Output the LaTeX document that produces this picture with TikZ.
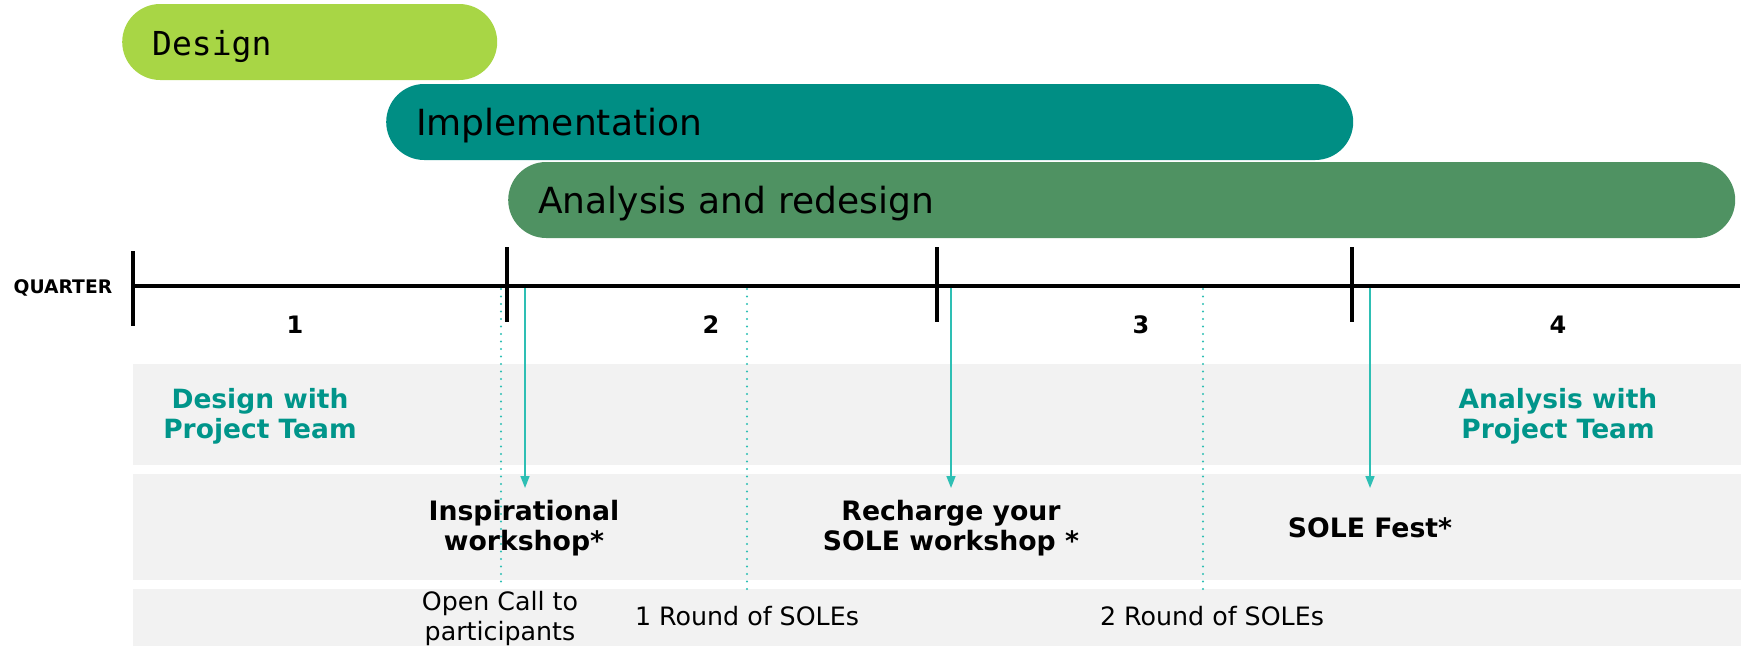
\documentclass[tikz,border=0pt]{standalone}
\usepackage{fontspec}
\setmainfont{DejaVu Sans}
\newfontfamily\monofont{DejaVu Sans Mono}
\usetikzlibrary{arrows.meta}
\definecolor{cDesign}{HTML}{A8D645}
\definecolor{cImpl}{HTML}{008E84}
\definecolor{cAnal}{HTML}{4F9262}
\definecolor{cTealText}{HTML}{00958A}
\definecolor{cArrow}{HTML}{2EBFB4}
\definecolor{cBand}{HTML}{F2F2F2}
\begin{document}
\begin{tikzpicture}[x=1pt,y=-1pt,
  bar/.style={anchor=west, rounded corners=38pt, minimum height=76pt,
    inner xsep=30pt, inner ysep=0pt, text height=27pt, text depth=0pt,
    align=left, font=\fontsize{36}{40}\selectfont, text=black},
  band/.style={fill=cBand},
  axisline/.style={line width=4pt, black},
  tickline/.style={line width=3.5pt, black},
  dotline/.style={cArrow, line width=2.2pt, line cap=round, dash pattern=on 0pt off 7.5pt},
  evarrow/.style={cArrow, line width=1.6pt, -{Triangle[length=12pt,width=9pt]}},
  qnum/.style={anchor=base, font=\bfseries\fontsize{24}{28}\selectfont},
  teamlabel/.style={anchor=base, align=center, text=cTealText, inner sep=0pt,
    font=\bfseries\fontsize{26.5}{30}\selectfont},
  eventlabel/.style={anchor=base, align=center, text=black, inner sep=0pt,
    font=\bfseries\fontsize{26.7}{30}\selectfont},
  smalllabel/.style={anchor=base, align=center, text=black, inner sep=0pt,
    font=\fontsize{25.3}{30}\selectfont}
]
\useasboundingbox (0,0) rectangle (1743,648);

% phase bars
\node[bar, fill=cDesign, text width=315pt, font=\monofont\fontsize{33}{36}\selectfont] (design) at (122,42) {Design};
\node[bar, fill=cImpl, text width=907pt] (impl) at (386,122) {Implementation};
\node[bar, fill=cAnal, text width=1167pt] (anal) at (508,200) {Analysis and redesign};

% background bands
\fill[band] (133,364) rectangle (1741,465);
\fill[band] (133,474) rectangle (1741,580);
\fill[band] (133,589) rectangle (1741,646);

% axis
\coordinate (axL) at (133,286);
\coordinate (axR) at (1740,286);
\draw[axisline] (axL) -- (axR);
\draw[tickline] (133,251) -- (133,326);
\draw[tickline] (507,247) -- (507,322);
\draw[tickline] (937,247) -- (937,322);
\draw[tickline] (1352,247) -- (1352,322);

\node[anchor=base west, inner sep=0pt, font=\bfseries\fontsize{18.7}{22}\selectfont] (quarter) at (13.5,293) {QUARTER};
\node[qnum] (q1) at (295,333) {1};
\node[qnum] (q2) at (711,333) {2};
\node[qnum] (q3) at (1141,333) {3};
\node[qnum] (q4) at (1558,333) {4};

% dotted markers
\coordinate (d1s) at (501,289); \coordinate (d1e) at (501,587);
\coordinate (d2s) at (747,289); \coordinate (d2e) at (747,593);
\coordinate (d3s) at (1203,289); \coordinate (d3e) at (1203,593);
\draw[dotline] (d1s) -- (d1e);
\draw[dotline] (d2s) -- (d2e);
\draw[dotline] (d3s) -- (d3e);

% event arrows
\coordinate (a1s) at (525,288); \coordinate (a1e) at (525,488);
\coordinate (a2s) at (951,288); \coordinate (a2e) at (951,488);
\coordinate (a3s) at (1370,288); \coordinate (a3e) at (1370,488);
\draw[evarrow] (a1s) -- (a1e);
\draw[evarrow] (a2s) -- (a2e);
\draw[evarrow] (a3s) -- (a3e);

% labels (base anchor = baseline of last line)
\node[teamlabel] (dteam) at (260,438) {Design with\\Project Team};
\node[teamlabel] (ateam) at (1558,438) {Analysis with\\Project Team};
\node[eventlabel] (insp) at (524,550) {Inspirational\\workshop*};
\node[eventlabel] (rech) at (951,550) {Recharge your\\SOLE workshop *};
\node[eventlabel] (fest) at (1370,537) {SOLE Fest*};
\node[smalllabel] (open) at (500,640) {Open Call to\\participants};
\node[smalllabel] (r1) at (747,625) {1 Round of SOLEs};
\node[smalllabel] (r2) at (1212,625) {2 Round of SOLEs};
\end{tikzpicture}
\end{document}
